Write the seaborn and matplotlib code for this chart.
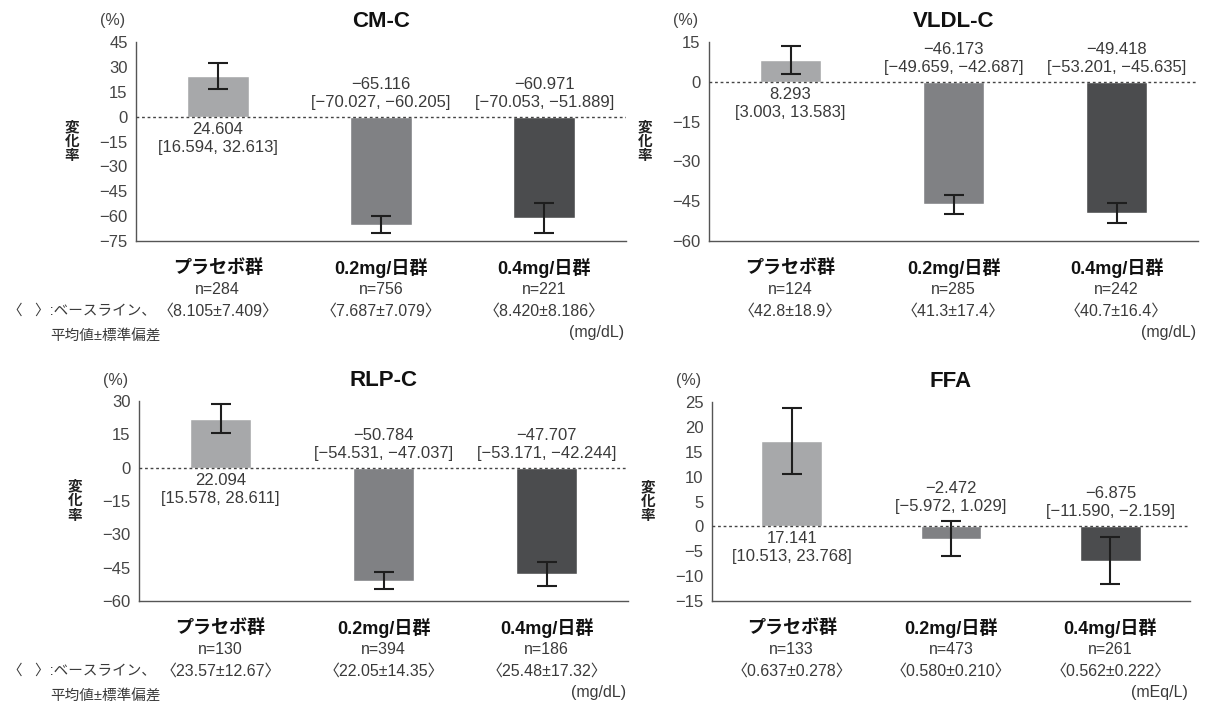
import numpy as np
import matplotlib
matplotlib.use("Agg")
import matplotlib.pyplot as plt
import seaborn as sns

sns.set_theme(style="white")
plt.rcParams["font.family"] = ["Liberation Sans", "Noto Sans CJK JP", "DejaVu Sans"]
plt.rcParams["axes.unicode_minus"] = True

# ---------------------------------------------------------------------------
# Data (percent change, mean [95% CI])
# ---------------------------------------------------------------------------
GROUPS = ["プラセボ群", "0.2mg/日群", "0.4mg/日群"]
COLORS = ["#a7a8aa", "#808184", "#4b4c4e"]

cmc_mean = [24.604, -65.116, -60.971]
cmc_lo = [16.594, -70.027, -70.053]
cmc_hi = [32.613, -60.205, -51.889]
cmc_n = [284, 756, 221]
cmc_base = ["8.105±7.409", "7.687±7.079", "8.420±8.186"]

vldl_mean = [8.293, -46.173, -49.418]
vldl_lo = [3.003, -49.659, -53.201]
vldl_hi = [13.583, -42.687, -45.635]
vldl_n = [124, 285, 242]
vldl_base = ["42.8±18.9", "41.3±17.4", "40.7±16.4"]

rlp_mean = [22.094, -50.784, -47.707]
rlp_lo = [15.578, -54.531, -53.171]
rlp_hi = [28.611, -47.037, -42.244]
rlp_n = [130, 394, 186]
rlp_base = ["23.57±12.67", "22.05±14.35", "25.48±17.32"]

ffa_mean = [17.141, -2.472, -6.875]
ffa_lo = [10.513, -5.972, -11.590]
ffa_hi = [23.768, 1.029, -2.159]
ffa_n = [133, 473, 261]
ffa_base = ["0.637±0.278", "0.580±0.210", "0.562±0.222"]

TEXT = "#3a3a3a"
W, H = 1214, 711


def fmt(v, dec=3):
    s = f"{abs(v):.{dec}f}"
    return ("−" + s) if v < 0 else s


def panel(fig, rect_px, title, mean, lo, hi, n, base, unit, yticks, footnote):
    x0, y_top, x1, y_bot = rect_px
    ax = fig.add_axes([x0 / W, 1 - y_bot / H, (x1 - x0) / W, (y_bot - y_top) / H])

    sns.barplot(x=GROUPS, y=mean, hue=GROUPS, palette=COLORS, legend=False,
                width=0.38, ax=ax, saturation=1, zorder=2)
    xs = np.arange(len(GROUPS))
    m = np.array(mean)
    yerr = [m - np.array(lo), np.array(hi) - m]
    ax.errorbar(xs, m, yerr=yerr, fmt="none", ecolor="#1e1e1e",
                elinewidth=1.5, capsize=7, capthick=1.5, zorder=3)
    ax.axhline(0, color="#444444", lw=1, ls=(0, (2, 2)), zorder=4)

    ax.set_xlim(-0.5, 2.5)
    ax.set_ylim(yticks[0], yticks[-1])
    ax.set_yticks(yticks)
    ax.set_yticklabels([fmt(t, 0) for t in yticks])
    ax.set_xticks(xs)
    ax.set_xticklabels([])
    ax.set_xlabel("")
    ax.set_ylabel("")
    for s in ["top", "right"]:
        ax.spines[s].set_visible(False)
    for s in ["left", "bottom"]:
        ax.spines[s].set_color("#555555")
        ax.spines[s].set_linewidth(1)
    ax.tick_params(axis="both", direction="out", length=4, width=1,
                   color="#555555", labelcolor="#444444", labelsize=12, pad=2)
    ax.tick_params(axis="x", length=5)

    ax.set_title(title, fontsize=16, fontweight="bold", color="#111111", pad=11)
    ax.annotate("(%)", xy=(0, 1), xycoords="axes fraction", xytext=(-23, 21),
                textcoords="offset pixels", ha="center", va="center",
                fontsize=11.5, color="#444444")
    ax.annotate("変\n化\n率", xy=(0, 0.5), xycoords="axes fraction",
                xytext=(-64, 0), textcoords="offset pixels", ha="center",
                va="center", fontsize=10.5, fontweight="bold", color="#222222",
                linespacing=1.05)

    # value + CI labels
    for i in range(len(GROUPS)):
        label = f"{fmt(mean[i])}\n[{fmt(lo[i])}, {fmt(hi[i])}]"
        if mean[i] >= 0:
            ax.annotate(label, xy=(i, 0), xytext=(0, -5), textcoords="offset pixels",
                        ha="center", va="top", fontsize=12, color=TEXT,
                        linespacing=1.25, zorder=5)
        else:
            anchor = max(0, hi[i])
            ax.annotate(label, xy=(i, anchor), xytext=(0, 7), textcoords="offset pixels",
                        ha="center", va="bottom", fontsize=12, color=TEXT,
                        linespacing=1.25, zorder=5)

    # category labels under the axis
    for i in range(len(GROUPS)):
        ax.annotate(GROUPS[i], xy=(i, 0), xycoords=("data", "axes fraction"),
                    xytext=(0, -27), textcoords="offset pixels", ha="center",
                    va="center", fontsize=13, fontweight="bold", color="#111111")
        ax.annotate(f"n={n[i]}", xy=(i, 0), xycoords=("data", "axes fraction"),
                    xytext=(0, -49), textcoords="offset pixels", ha="center",
                    va="center", fontsize=11.5, color=TEXT)
        ax.annotate(f"〈{base[i]}〉", xy=(i, 0), xycoords=("data", "axes fraction"),
                    xytext=(0, -70), textcoords="offset pixels", ha="center",
                    va="center", fontsize=11.5, color=TEXT)
    ax.annotate(f"({unit})", xy=(1, 0), xycoords="axes fraction",
                xytext=(-2, -92), textcoords="offset pixels", ha="right",
                va="center", fontsize=11.5, color=TEXT)

    if footnote:
        fig.text(8 / W, 1 - (y_bot + 70) / H, "〈   〉:ベースライン、", ha="left",
                 va="center", fontsize=10.5, color=TEXT)
        fig.text(50 / W, 1 - (y_bot + 96) / H, "平均値±標準偏差", ha="left",
                 va="center", fontsize=10.5, color=TEXT)
    return ax


fig = plt.figure(figsize=(W / 100, H / 100), dpi=100)

panel(fig, (136, 42, 626, 241), "CM-C", cmc_mean, cmc_lo, cmc_hi, cmc_n, cmc_base,
      "mg/dL", [-75, -60, -45, -30, -15, 0, 15, 30, 45], True)
panel(fig, (709, 42, 1198, 241), "VLDL-C", vldl_mean, vldl_lo, vldl_hi, vldl_n, vldl_base,
      "mg/dL", [-60, -45, -30, -15, 0, 15], False)
panel(fig, (139, 401, 628, 601), "RLP-C", rlp_mean, rlp_lo, rlp_hi, rlp_n, rlp_base,
      "mg/dL", [-60, -45, -30, -15, 0, 15, 30], True)
panel(fig, (712, 402, 1190, 601), "FFA", ffa_mean, ffa_lo, ffa_hi, ffa_n, ffa_base,
      "mEq/L", [-15, -10, -5, 0, 5, 10, 15, 20, 25], False)

fig.savefig("out.png", dpi=100, facecolor="white")
